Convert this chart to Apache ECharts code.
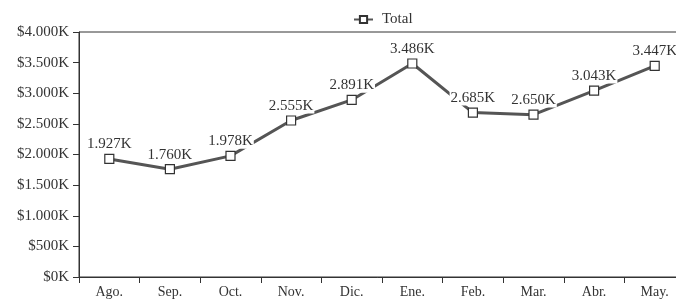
<!DOCTYPE html>
<html>
<head>
<meta charset="utf-8">
<script src="https://cdn.jsdelivr.net/npm/echarts@6/dist/echarts.min.js"></script>
<style>html,body{margin:0;padding:0;background:#fff;}#c{width:676px;height:302px;}</style>
</head>
<body>
<div id="c"></div>
<script>
const categories = ['Ago.', 'Sep.', 'Oct.', 'Nov.', 'Dic.', 'Ene.', 'Feb.', 'Mar.', 'Abr.', 'May.'];
const totalValues = [1927, 1760, 1978, 2555, 2891, 3486, 2685, 2650, 3043, 3447];
const seriesName = 'Total';
const yMin = 0, yMax = 4000, yStep = 500;

function grp(n) {
  return String(Math.round(n)).replace(/\B(?=(\d{3})+(?!\d))/g, '.');
}
const FONT = 'Liberation Serif';
const chart = echarts.init(document.getElementById('c'), null, {renderer: 'canvas'});
chart.setOption({
  animation: false,
  backgroundColor: '#fff',
  legend: {
    left: 348, top: 7,
    itemWidth: 19, itemHeight: 9, itemGap: 10,
    textStyle: {fontFamily: FONT, fontSize: 15, color: '#333', padding: [0, 0, 0, 4]},
    data: [seriesName]
  },
  grid: {
    left: 79, top: 32, width: 606, height: 245,
    outerBoundsMode: 'none', containLabel: false,
    show: true, borderColor: '#333', borderWidth: 1, backgroundColor: 'transparent'
  },
  xAxis: {
    type: 'category', data: categories, boundaryGap: true,
    axisLine: {lineStyle: {color: '#333', width: 1}},
    axisTick: {show: true, length: 6, lineStyle: {color: '#333'}},
    axisLabel: {fontFamily: FONT, fontSize: 14, color: '#333', margin: 8}
  },
  yAxis: {
    type: 'value', min: yMin, max: yMax, interval: yStep,
    axisLine: {show: true, lineStyle: {color: '#333', width: 1}},
    axisTick: {show: true, length: 6, lineStyle: {color: '#333'}},
    splitLine: {show: false},
    axisLabel: {fontFamily: FONT, fontSize: 15, color: '#333', margin: 10,
      formatter: v => '$' + grp(v) + 'K'}
  },
  series: [{
    name: seriesName, type: 'line', data: totalValues,
    symbol: 'rect', symbolSize: 9,
    lineStyle: {color: '#555', width: 3},
    itemStyle: {color: '#fff', borderColor: '#333', borderWidth: 1.2},
    label: {
      show: true, position: 'top', distance: 2,
      fontFamily: FONT, fontSize: 15, color: '#333',
      backgroundColor: '#fff', padding: [0, 1],
      formatter: p => grp(p.value) + 'K'
    }
  }]
});
</script>
</body>
</html>
